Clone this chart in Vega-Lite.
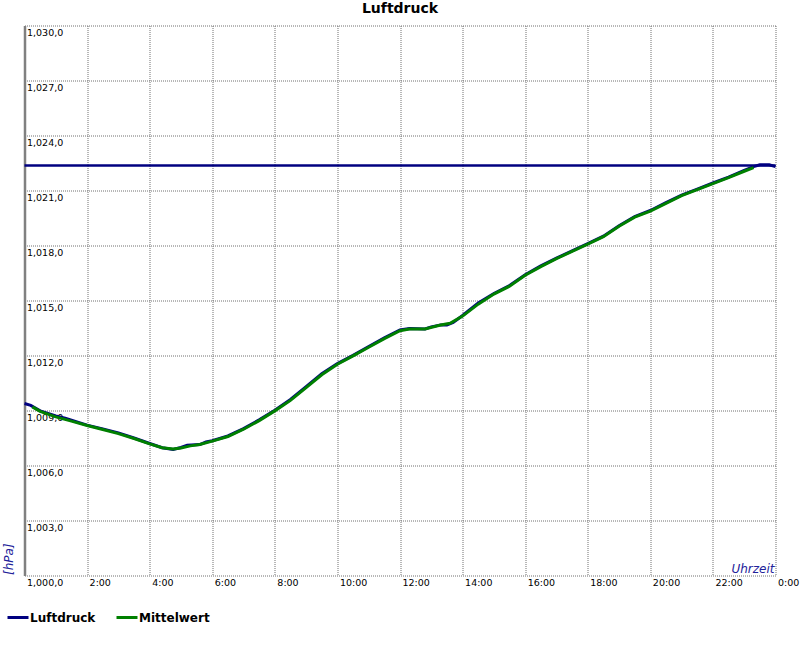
{
  "$schema": "https://vega.github.io/schema/vega-lite/v6.json",
  "width": 751,
  "height": 550,
  "autosize": {"type": "none"},
  "padding": {"left": 24.5, "top": 25.5, "right": 24.5, "bottom": 74.5},
  "background": "white",
  "title": {"text": "Luftdruck", "font": "DejaVu Sans", "fontSize": 14, "fontWeight": "bold", "color": "black", "anchor": "middle", "baseline": "alphabetic", "offset": 12, "dy": 13, "frame": "group"},
  "config": {"view": {"stroke": null}, "font": "DejaVu Sans"},
  "datasets": {
    "aktuell": [{"h": 0, "hPa": 1022.36}, {"h": 24, "hPa": 1022.36}],
    "luftdruck": [
      {"h": 0, "hPa": 1009.38}, {"h": 0.2, "hPa": 1009.28}, {"h": 0.5, "hPa": 1008.98}, {"h": 1.0, "hPa": 1008.7},
      {"h": 1.3, "hPa": 1008.58}, {"h": 1.5, "hPa": 1008.47}, {"h": 2.0, "hPa": 1008.2}, {"h": 2.5, "hPa": 1008.0},
      {"h": 3.0, "hPa": 1007.78}, {"h": 3.5, "hPa": 1007.5}, {"h": 4.0, "hPa": 1007.2}, {"h": 4.4, "hPa": 1006.97},
      {"h": 4.75, "hPa": 1006.88}, {"h": 5.0, "hPa": 1006.98}, {"h": 5.2, "hPa": 1007.1}, {"h": 5.6, "hPa": 1007.14},
      {"h": 5.8, "hPa": 1007.28}, {"h": 6.0, "hPa": 1007.35}, {"h": 6.5, "hPa": 1007.61}, {"h": 7.0, "hPa": 1008.01},
      {"h": 7.5, "hPa": 1008.49}, {"h": 8.0, "hPa": 1009.01}, {"h": 8.5, "hPa": 1009.6}, {"h": 9.0, "hPa": 1010.3},
      {"h": 9.5, "hPa": 1011.0}, {"h": 10.0, "hPa": 1011.56}, {"h": 10.5, "hPa": 1012.01}, {"h": 11.0, "hPa": 1012.49},
      {"h": 11.5, "hPa": 1012.96}, {"h": 12.0, "hPa": 1013.39}, {"h": 12.3, "hPa": 1013.47}, {"h": 12.8, "hPa": 1013.45},
      {"h": 13.0, "hPa": 1013.56}, {"h": 13.3, "hPa": 1013.67}, {"h": 13.5, "hPa": 1013.66}, {"h": 13.7, "hPa": 1013.8},
      {"h": 14.0, "hPa": 1014.18}, {"h": 14.5, "hPa": 1014.86}, {"h": 15.0, "hPa": 1015.38}, {"h": 15.5, "hPa": 1015.82},
      {"h": 16.0, "hPa": 1016.41}, {"h": 16.5, "hPa": 1016.89}, {"h": 17.0, "hPa": 1017.31}, {"h": 17.5, "hPa": 1017.71},
      {"h": 18.0, "hPa": 1018.1}, {"h": 18.5, "hPa": 1018.51}, {"h": 19.0, "hPa": 1019.08}, {"h": 19.5, "hPa": 1019.58},
      {"h": 20.0, "hPa": 1019.91}, {"h": 20.5, "hPa": 1020.34}, {"h": 21.0, "hPa": 1020.75}, {"h": 21.5, "hPa": 1021.08},
      {"h": 22.0, "hPa": 1021.41}, {"h": 22.5, "hPa": 1021.73}, {"h": 23.0, "hPa": 1022.1}, {"h": 23.3, "hPa": 1022.3},
      {"h": 23.5, "hPa": 1022.4}, {"h": 23.8, "hPa": 1022.4}, {"h": 24.0, "hPa": 1022.3}
    ],
    "mittelwert": [
      {"h": 0.25, "hPa": 1009.2}, {"h": 0.5, "hPa": 1008.95}, {"h": 1.0, "hPa": 1008.65}, {"h": 1.5, "hPa": 1008.42},
      {"h": 2.0, "hPa": 1008.18}, {"h": 2.5, "hPa": 1007.96}, {"h": 3.0, "hPa": 1007.74}, {"h": 3.5, "hPa": 1007.47},
      {"h": 4.0, "hPa": 1007.18}, {"h": 4.4, "hPa": 1006.97}, {"h": 4.75, "hPa": 1006.9}, {"h": 5.0, "hPa": 1006.95},
      {"h": 5.3, "hPa": 1007.07}, {"h": 5.6, "hPa": 1007.15}, {"h": 6.0, "hPa": 1007.33}, {"h": 6.5, "hPa": 1007.58},
      {"h": 7.0, "hPa": 1007.98}, {"h": 7.5, "hPa": 1008.45}, {"h": 8.0, "hPa": 1008.98}, {"h": 8.5, "hPa": 1009.55},
      {"h": 9.0, "hPa": 1010.25}, {"h": 9.5, "hPa": 1010.95}, {"h": 10.0, "hPa": 1011.52}, {"h": 10.5, "hPa": 1011.98},
      {"h": 11.0, "hPa": 1012.45}, {"h": 11.5, "hPa": 1012.92}, {"h": 12.0, "hPa": 1013.35}, {"h": 12.3, "hPa": 1013.45},
      {"h": 12.8, "hPa": 1013.45}, {"h": 13.3, "hPa": 1013.66}, {"h": 13.6, "hPa": 1013.76}, {"h": 14.0, "hPa": 1014.15},
      {"h": 14.5, "hPa": 1014.8}, {"h": 15.0, "hPa": 1015.35}, {"h": 15.5, "hPa": 1015.78}, {"h": 16.0, "hPa": 1016.38},
      {"h": 16.5, "hPa": 1016.85}, {"h": 17.0, "hPa": 1017.28}, {"h": 17.5, "hPa": 1017.68}, {"h": 18.0, "hPa": 1018.07},
      {"h": 18.5, "hPa": 1018.48}, {"h": 19.0, "hPa": 1019.05}, {"h": 19.5, "hPa": 1019.55}, {"h": 20.0, "hPa": 1019.88},
      {"h": 20.5, "hPa": 1020.3}, {"h": 21.0, "hPa": 1020.72}, {"h": 21.5, "hPa": 1021.05}, {"h": 22.0, "hPa": 1021.38},
      {"h": 22.5, "hPa": 1021.7}, {"h": 23.0, "hPa": 1022.05}, {"h": 23.3, "hPa": 1022.25}
    ]
  },
  "encoding": {
    "x": {
      "field": "h", "type": "quantitative",
      "scale": {"domain": [0, 24], "nice": false, "zero": false},
      "axis": {
        "values": [0, 2, 4, 6, 8, 10, 12, 14, 16, 18, 20, 22, 24],
        "labelExpr": "datum.value == 0 ? '' : (datum.value % 24) + ':00'",
        "grid": true, "gridColor": "#707070", "gridDash": [1, 1], "gridWidth": 1, "gridOpacity": 1,
        "ticks": false, "domain": false,
        "labelAlign": "left", "labelBaseline": "top", "labelPadding": 2, "labelOffset": 2,
        "labelFlush": false, "labelOverlap": false, "labelBound": false,
        "labelFont": "DejaVu Sans", "labelFontSize": 9.5, "labelColor": "black",
        "title": "Uhrzeit", "titleFont": "DejaVu Sans", "titleFontStyle": "italic", "titleFontWeight": "normal",
        "titleFontSize": 12, "titleColor": "#22229a", "titleAlign": "right", "titleBaseline": "alphabetic",
        "titleAnchor": "end", "titleX": 749.5, "titleY": -3
      }
    },
    "y": {
      "field": "hPa", "type": "quantitative",
      "scale": {"domain": [1000, 1030], "nice": false, "zero": false},
      "axis": {
        "values": [1000, 1003, 1006, 1009, 1012, 1015, 1018, 1021, 1024, 1027, 1030],
        "labelExpr": "replace(format(datum.value, ',.1f'), '.', ',')",
        "grid": true, "gridColor": "#707070", "gridDash": [1, 1], "gridWidth": 1, "gridOpacity": 1,
        "ticks": false, "domain": true, "domainColor": "#808080", "domainWidth": 2.5,
        "labelAlign": "left", "labelBaseline": "top", "labelPadding": -2, "labelOffset": 1.5,
        "labelFlush": false, "labelOverlap": false, "labelBound": false,
        "labelFont": "DejaVu Sans", "labelFontSize": 9.5, "labelColor": "black",
        "title": "[hPa]", "titleFont": "DejaVu Sans", "titleFontStyle": "italic", "titleFontWeight": "normal",
        "titleFontSize": 12, "titleColor": "#22229a", "titleAngle": 270, "titleAlign": "left", "titleBaseline": "middle",
        "titleX": -16, "titleY": 549
      }
    }
  },
  "layer": [
    {
      "data": {"name": "aktuell"},
      "mark": {"type": "line", "color": "#000080", "strokeWidth": 2.5}
    },
    {
      "data": {"name": "luftdruck"},
      "mark": {"type": "line", "strokeWidth": 3},
      "encoding": {
        "color": {
          "datum": "Luftdruck",
          "scale": {"domain": ["Luftdruck", "Mittelwert"], "range": ["#000080", "#008000"]},
          "legend": {
            "orient": "none", "legendX": -18.5, "legendY": 580, "direction": "horizontal", "title": null,
            "symbolType": "stroke", "symbolSize": 441, "symbolStrokeWidth": 3,
            "labelFont": "DejaVu Sans", "labelFontSize": 12, "labelFontWeight": "bold", "labelColor": "black",
            "labelOffset": 0, "columnPadding": 14, "padding": 0
          }
        }
      }
    },
    {
      "data": {"name": "mittelwert"},
      "mark": {"type": "line", "strokeWidth": 3},
      "encoding": {"color": {"datum": "Mittelwert"}}
    }
  ]
}
